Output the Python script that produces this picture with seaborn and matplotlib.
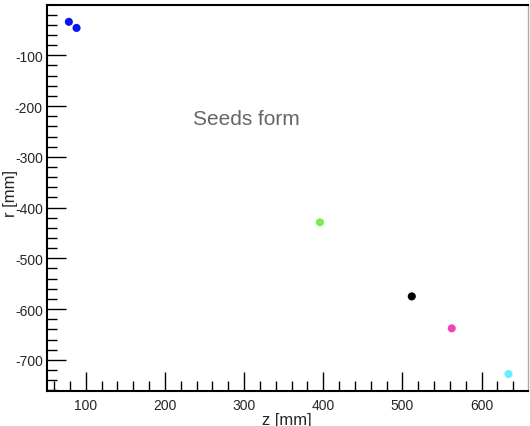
import matplotlib
matplotlib.use("Agg")
import matplotlib.pyplot as plt
import seaborn as sns
import pandas as pd
from matplotlib.ticker import MultipleLocator

# Data
z_mm = [78.6, 88.3, 395.8, 511.8, 562.3, 634.0]
r_mm = [-34.0, -46.0, -429.0, -575.0, -638.0, -728.0]
hit_id = ["b1", "b2", "g", "k", "m", "c"]
hit_colors = ["#0a14f0", "#0a14f0", "#77ee55", "#000000", "#ee44bb", "#66eeff"]
annotation = "Seeds form"
x_label = "z [mm]"
y_label = "r [mm]"

sns.set_style("white")
plt.rcParams["font.family"] = ["Liberation Sans", "DejaVu Sans"]
plt.rcParams["axes.unicode_minus"] = False

df = pd.DataFrame({"z": z_mm, "r": r_mm, "id": hit_id})

fig = plt.figure(figsize=(5.30, 4.27), dpi=100)
ax = fig.add_axes([0.0887, 0.0813, 0.9968 - 0.0887, 0.9867 - 0.0813])

sns.scatterplot(data=df, x="z", y="r", hue="id",
                palette=dict(zip(hit_id, hit_colors)),
                s=34, linewidth=0, legend=False, ax=ax)

ax.set_xlim(51, 659)
ax.set_ylim(-762, -0.2)

ax.xaxis.set_major_locator(MultipleLocator(100))
ax.xaxis.set_minor_locator(MultipleLocator(20))
ax.yaxis.set_major_locator(MultipleLocator(100))
ax.yaxis.set_minor_locator(MultipleLocator(20))

ax.tick_params(axis="both", which="both", direction="in", top=False, right=False,
               left=True, bottom=True, color="black")
ax.tick_params(axis="both", which="major", length=14, width=1.0, labelsize=10)
ax.tick_params(axis="both", which="minor", length=7, width=1.0)
ax.tick_params(axis="x", which="major", pad=5)
ax.tick_params(axis="y", which="major", pad=3)

for side in ["left", "bottom", "top"]:
    ax.spines[side].set_color("black")
    ax.spines[side].set_linewidth(1.5)
ax.spines["right"].set_color("#aaaaaa")
ax.spines["right"].set_linewidth(1.0)

ax.set_xlabel(x_label, fontsize=12)
ax.set_ylabel(y_label, fontsize=12)
ax.xaxis.set_label_coords(0.4985, -0.0717)
ax.yaxis.set_label_coords(-0.0765, 0.514)
ax.xaxis.label.set_va("center")
ax.yaxis.label.set_va("center")

ax.text(303, -224, annotation, ha="center", va="center", fontsize=15, color="#666666")

fig.savefig("out.png", dpi=100)
